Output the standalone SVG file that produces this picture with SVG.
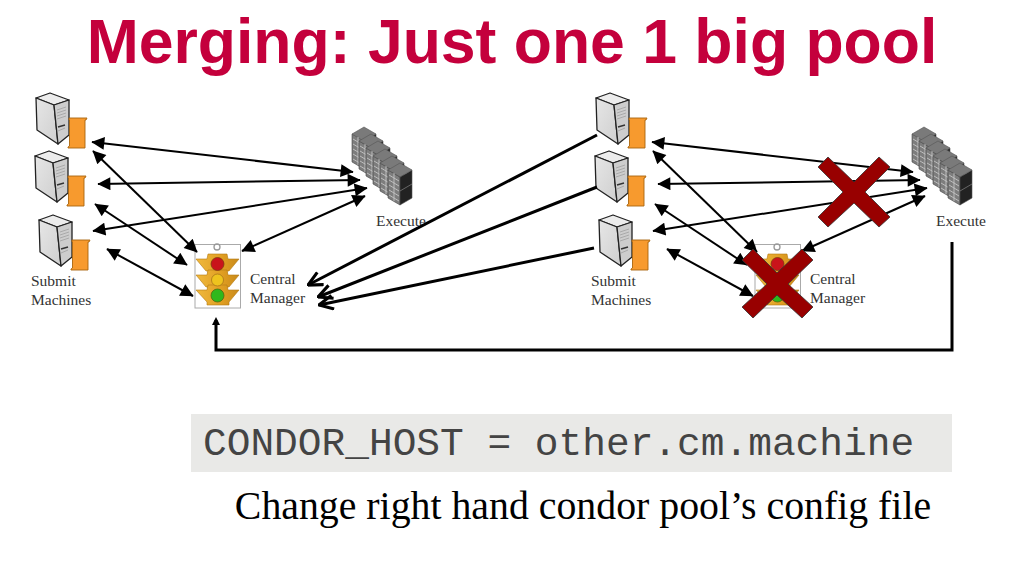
<svg xmlns="http://www.w3.org/2000/svg" width="1024" height="576" viewBox="0 0 1024 576">
<style>
.lbl{font-family:"Liberation Serif",serif;font-size:15.500px;fill:#333}
.thin{fill:none;stroke:#000;stroke-width:2;marker-start:url(#h);marker-end:url(#h)}
.thick{fill:none;stroke:#000;stroke-width:3;marker-end:url(#o)}
.x{stroke:#333;stroke-width:0.800;fill:#980000}
</style>
<defs>
<marker id="h" viewBox="0 0 10 10" refX="9.500" refY="5" markerWidth="7" markerHeight="6.500" orient="auto-start-reverse" markerUnits="strokeWidth"><path d="M0 0L10 5L0 10z" fill="#000"/></marker>
<marker id="o" viewBox="0 0 10 10" refX="9.500" refY="5" markerWidth="5.500" markerHeight="5.500" orient="auto" markerUnits="strokeWidth"><path d="M1 0.800L9.500 5L1 9.200" fill="none" stroke="#000" stroke-width="1.900"/></marker>
<linearGradient id="side" x1="0" y1="0" x2="1" y2="1"><stop offset="0" stop-color="#e6e6e6"/><stop offset="1" stop-color="#cfcfcf"/></linearGradient>
<linearGradient id="amber" x1="0" y1="0" x2="1" y2="0"><stop offset="0" stop-color="#f0b93d"/><stop offset="0.600" stop-color="#e09e22"/><stop offset="1" stop-color="#c98a1a"/></linearGradient>
<g id="server">
<path d="M0 5L14 0L33 7L18 12z" fill="#ececec" stroke="#222" stroke-width="1.300" stroke-linejoin="round"/>
<path d="M0 5L18 12L22 51L1 37z" fill="url(#side)" stroke="#222" stroke-width="1.300" stroke-linejoin="round"/>
<path d="M18 12L33 7L33 42L22 51z" fill="#cdcdcd" stroke="#222" stroke-width="1.300" stroke-linejoin="round"/>
<path d="M21 17L30 14M21 20L30 17M21 23L30 20M21 26L30 23M22 38L29 35" stroke="#a5a5a5" stroke-width="0.900" fill="none"/>
<path d="M22 34L29 32" stroke="#333" stroke-width="1.500"/>
<path d="M33 25H51L50 27H49V55H32V54L33.500 53V27H33z" fill="#f79a2e" stroke="#a8650f" stroke-width="0.900"/>
</g>
<g id="unit">
<path d="M0 7L12 14V42L0 35z" fill="#7d7d7d" stroke="#444" stroke-width="0.600"/>
<path d="M12 14L24 7V35L12 42z" fill="#222" stroke="#555" stroke-width="0.600"/>
<path d="M0 7L12 0L24 7L12 14z" fill="#7a7a7a" stroke="#555" stroke-width="0.600"/>
<path d="M1 12L11 18M1 17L11 23M1 22L11 28M1 27L11 33M1 32L11 38M6 10V38" stroke="#c4c4c4" stroke-width="0.900" fill="none"/>
<path d="M12 28L24 21" stroke="#777" stroke-width="0.800"/>
</g>
<g id="cluster">
<use href="#unit" x="352" y="127"/>
<use href="#unit" x="359" y="134"/>
<use href="#unit" x="366" y="141"/>
<use href="#unit" x="373" y="149"/>
<use href="#unit" x="380" y="156"/>
<use href="#unit" x="388" y="163"/>
</g>
<g id="section">
<path d="M0 0H11L12 -5H31L32 0H43L33 12H31V17H12V12H10z" fill="url(#amber)" stroke="#b47a14" stroke-width="0.600"/>
</g>
<g id="light">
<rect x="195" y="244.500" width="45.500" height="63.500" fill="#fff" stroke="#aaa"/>
<circle cx="217" cy="247" r="3" fill="none" stroke="#999" stroke-width="1.300"/>
<use href="#section" x="196" y="259"/>
<use href="#section" x="196" y="275"/>
<path d="M196 290H207L208 285H227L228 290H239L229 302V305H207V302z" fill="url(#amber)" stroke="#b47a14" stroke-width="0.600"/>
<circle cx="217.500" cy="264" r="6.500" fill="#c9141b" stroke="#7d3a10" stroke-width="0.800"/>
<circle cx="217.500" cy="280" r="6" fill="#eec31e" stroke="#a8761a" stroke-width="0.800"/>
<circle cx="217.500" cy="295.500" r="6.500" fill="#2fb81c" stroke="#4e6a12" stroke-width="0.800"/>
</g>
</defs>
<rect width="1024" height="576" fill="#fff"/>
<text id="title" x="512" y="63" text-anchor="middle" font-family="Liberation Sans,sans-serif" font-weight="700" font-size="62.500" fill="#c4003c">Merging: Just one 1 big pool</text>
<g id="left-pool">
<g id="l-submit1"><use href="#server" x="36" y="93"/></g>
<g id="l-submit2"><use href="#server" x="35" y="151"/></g>
<g id="l-submit3"><use href="#server" x="39" y="215"/></g>
<g id="l-execute"><use href="#cluster"/><text class="lbl" x="376" y="226">Execute</text></g>
<g id="l-cm"><use href="#light"/><text class="lbl" x="250" y="284">Central</text><text class="lbl" x="250" y="303">Manager</text></g>
<text class="lbl" x="31" y="286">Submit</text>
<text class="lbl" x="31" y="305">Machines</text>
</g>
<g id="right-pool">
<g id="r-submit1"><use href="#server" x="596" y="93"/></g>
<g id="r-submit2"><use href="#server" x="595" y="151"/></g>
<g id="r-submit3"><use href="#server" x="599" y="215"/></g>
<g id="r-execute"><use href="#cluster" x="560"/><text class="lbl" x="936" y="226">Execute</text></g>
<g id="r-cm"><use href="#light" x="560"/><text class="lbl" x="810" y="284">Central</text><text class="lbl" x="810" y="303">Manager</text></g>
<text class="lbl" x="591" y="286">Submit</text>
<text class="lbl" x="591" y="305">Machines</text>
</g>
<g id="connectors">
<g id="l-arrows">
<path class="thin" d="M92 142L353 172"/>
<path class="thin" d="M98 184L360 180"/>
<path class="thin" d="M93 231L367 188"/>
<path class="thin" d="M242 251L365 196"/>
<path class="thin" d="M93 151L197 252"/>
<path class="thin" d="M95 204L187 265"/>
<path class="thin" d="M107 249L193 296"/>
</g>
<g id="r-arrows" transform="translate(560 0)">
<path class="thin" d="M92 142L353 172"/>
<path class="thin" d="M98 184L360 180"/>
<path class="thin" d="M93 231L367 188"/>
<path class="thin" d="M242 251L365 196"/>
<path class="thin" d="M93 151L197 252"/>
<path class="thin" d="M95 204L187 265"/>
<path class="thin" d="M107 249L193 296"/>
</g>
<path class="thick" d="M597 135L308 285"/>
<path class="thick" d="M597 187L318 297"/>
<path class="thick" d="M594 248L319 305"/>
<path d="M952 242V350H216V320" fill="none" stroke="#000" stroke-width="3"/>
<path d="M216 317L212 325H220z" fill="#000"/>
</g>
<g id="cross1"><path class="x" d="M828 157L854 182L879 157L890 167L865 192L890 217L879 227L854 203L828 227L818 217L843 192L818 167z"/></g>
<g id="cross2"><path class="x" d="M753 249L777 273L802 249L813 260L788 284L813 307L802 318L777 295L753 318L742 307L767 284L742 260z"/></g>
<g id="config">
<rect x="191" y="414" width="761" height="58" fill="#e9e9e7"/>
<text x="203" y="455" font-family="Liberation Mono,monospace" font-size="39.500" fill="#444">CONDOR_HOST = other.cm.machine</text>
<text x="583" y="519" text-anchor="middle" font-family="Liberation Serif,serif" font-size="39.800" fill="#000">Change right hand condor pool’s config file</text>
</g>
</svg>
